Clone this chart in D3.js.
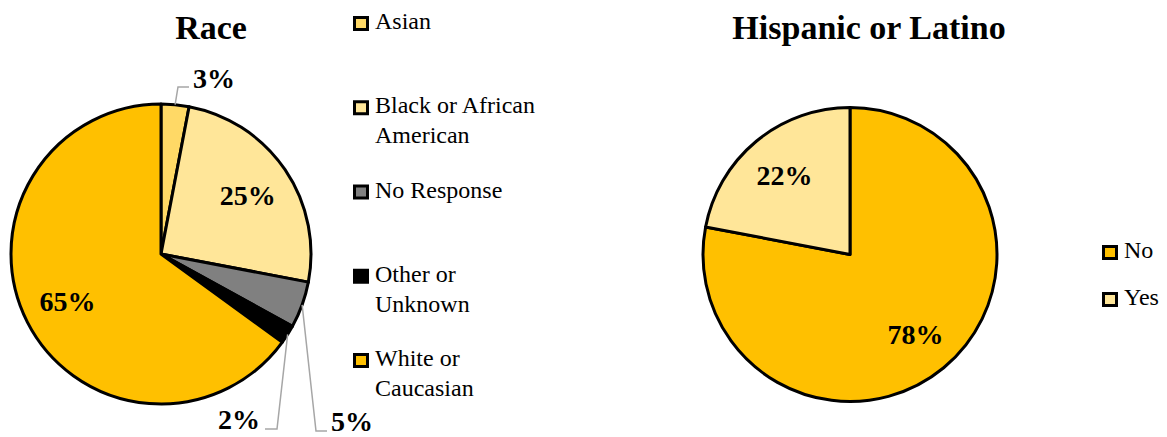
<!DOCTYPE html>
<html>
<head>
<meta charset="utf-8">
<script src="https://cdn.jsdelivr.net/npm/d3@7"></script>
<style>
  html, body { margin: 0; padding: 0; background: #fff; }
  svg { display: block; }
  text { font-family: "Liberation Serif", "Times New Roman", serif; }
</style>
</head>
<body>
<svg id="chart" width="1167" height="437"></svg>
<script>
// Race breakdown (percent of respondents)
const raceCategories = ["Asian", "Black or African American", "No Response", "Other or Unknown", "White or Caucasian"];
const raceValues = [3, 25, 5, 2, 65];
const raceLegendLines = [["Asian"], ["Black or African", "American"], ["No Response"], ["Other or", "Unknown"], ["White or", "Caucasian"]];
const raceColors = ["#FFD966", "#FFE699", "#808080", "#000000", "#FFC000"];

// Hispanic or Latino breakdown (percent of respondents)
const hispCategories = ["No", "Yes"];
const hispValues = [78, 22];
const hispColors = ["#FFC000", "#FFE699"];

const FONT = "Liberation Serif";
const svg = d3.select("#chart");
const pie = d3.pie().sort(null).value(d => d.value);

function drawPie(cfg) {
  const data = cfg.categories.map((c, i) => ({ category: c, value: cfg.values[i], color: cfg.colors[i] }));
  const arcs = pie(data);
  const g = svg.append("g").attr("transform", `translate(${cfg.cx},${cfg.cy})`);
  const arc = d3.arc().innerRadius(0).outerRadius(cfg.r);
  const labelArc = d3.arc().innerRadius(cfg.r * 0.7).outerRadius(cfg.r * 0.7);
  const rimArc = d3.arc().innerRadius(cfg.r).outerRadius(cfg.r);

  g.selectAll("path.slice").data(arcs).join("path")
    .attr("class", "slice")
    .attr("d", arc)
    .attr("fill", d => d.data.color)
    .attr("stroke", "#000")
    .attr("stroke-width", 3)
    .attr("stroke-linejoin", "round");

  arcs.forEach(a => {
    const txt = a.data.value + "%";
    const out = cfg.outside && cfg.outside[a.data.category];
    if (out) {
      const p0 = rimArc.centroid(a);
      g.append("polyline")
        .attr("points", [p0, out.elbow, out.end].map(p => p.join(",")).join(" "))
        .attr("fill", "none")
        .attr("stroke", "#A6A6A6")
        .attr("stroke-width", 1.5);
      g.append("text")
        .attr("x", out.text[0]).attr("y", out.text[1])
        .attr("text-anchor", out.anchor)
        .attr("font-family", FONT)
        .attr("font-size", 28).attr("font-weight", "bold")
        .text(txt);
    } else {
      const [x, y] = labelArc.centroid(a);
      g.append("text")
        .attr("x", x).attr("y", y)
        .attr("dy", "0.35em")
        .attr("text-anchor", "middle")
        .attr("font-family", FONT)
        .attr("font-size", 28).attr("font-weight", "bold")
        .text(txt);
    }
  });

  svg.append("text")
    .attr("x", cfg.titleX).attr("y", 39)
    .attr("text-anchor", "middle")
    .attr("font-family", FONT)
    .attr("font-size", 34).attr("font-weight", "bold")
    .text(cfg.title);
}

function drawLegend(cfg) {
  const y = d3.scaleLinear().domain([0, 1]).range([cfg.y0, cfg.y0 + cfg.step]);
  cfg.lines.forEach((lines, i) => {
    const base = y(i);
    svg.append("rect")
      .attr("x", cfg.x + 1.5).attr("y", base - 11.5)
      .attr("width", 13).attr("height", 12)
      .attr("fill", cfg.colors[i])
      .attr("stroke", "#000").attr("stroke-width", 3);
    lines.forEach((line, j) => {
      svg.append("text")
        .attr("x", cfg.x + 22)
        .attr("y", base + j * 30)
        .attr("font-family", FONT)
        .attr("font-size", 24)
        .text(line);
    });
  });
}

drawPie({
  title: "Race", titleX: 211,
  cx: 161, cy: 254, r: 150,
  categories: raceCategories, values: raceValues, colors: raceColors,
  outside: {
    "Asian": { elbow: [17, -167], end: [28, -167], text: [32, -166], anchor: "start" },
    "No Response": { elbow: [155, 177], end: [166, 177], text: [170, 177], anchor: "start" },
    "Other or Unknown": { elbow: [116, 175], end: [104, 175], text: [99, 175], anchor: "end" }
  }
});

drawPie({
  title: "Hispanic or Latino", titleX: 869,
  cx: 850, cy: 254.5, r: 147,
  categories: hispCategories, values: hispValues, colors: hispColors
});

drawLegend({ x: 353, y0: 29, step: 84.25, lines: raceLegendLines, colors: raceColors });
drawLegend({ x: 1102, y0: 258, step: 47, lines: hispCategories.map(c => [c]), colors: hispColors });
</script>
</body>
</html>
